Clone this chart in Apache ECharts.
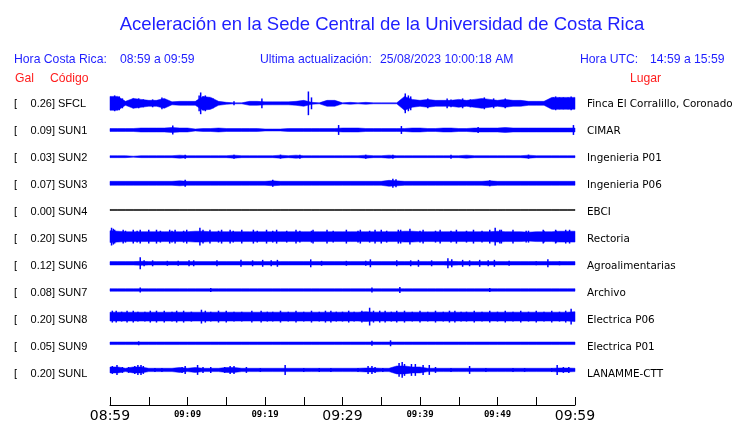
<!DOCTYPE html>
<html><head><meta charset="utf-8">
<script src="https://cdn.jsdelivr.net/npm/echarts@6/dist/echarts.min.js"></script>
<style>html,body{margin:0;padding:0;background:#fff}#c{width:740px;height:423px}</style>
</head><body><div id="c"></div><script>
// ---- data ----
const tickLabels = ['08:59','09:09','09:19','09:29','09:39','09:49','09:59'];
const galValues = ['0.26','0.09','0.03','0.07','0.00','0.20','0.12','0.08','0.20','0.05','0.20'];
const codes = ['SFCL','SUN1','SUN2','SUN3','SUN4','SUN5','SUN6','SUN7','SUN8','SUN9','SUNL'];
const places = ['Finca El Corralillo, Coronado','CIMAR','Ingenieria P01','Ingenieria P06','EBCI','Rectoria','Agroalimentarias','Archivo','Electrica P06','Electrica P01','LANAMME-CTT'];
// envelope half-amplitude per minute (0..60), in trace units
const envSFCL = [7,7,2,5,4,3,3,5,1.5,2,2,2,7,6,2,1,0.5,0.5,2,2,1.5,1.5,1.5,1.5,2,3,1,0.5,3,3,0.5,1,0.5,1,0.5,0.5,0.5,0.5,7,4,3,4,3,3,3,4,3,4,5,4,3,4,3,3,2,2,2,6,6,6,6];
const envSUN1 = [1.5,1.5,1.5,1.5,2,2,2,2,2.5,2,2,1,1.5,1.5,2,1.5,1.5,1.5,1.5,1.5,1,1,1,1.5,1.5,1.5,1.5,1.5,1.5,1.5,2,2,2,1.5,1.5,1.5,1.5,1.5,1.5,2,2,1.5,1.5,2,2,1.5,1.5,2,2,2,2,2.5,2,2,2,2,2,2,2,2,2];
const envSUN2 = [1,1,1,0.5,1,1,1,1,1,1.5,1,1,1,1,1,1,1.5,1,1,1,1,1,1.5,1,1.5,1,1,1,1,1,1,1,1,1.5,1,1,1.5,1,1,1,1,1,1,1,1,1,1.5,1,1,1,1,1,1,1,1.5,1,1,1,1,1,1];
const envSUN3 = [2,2,2,2,2,2,2,2,2,2.5,2,2,2,2,2,2,2,2,2,2,2,2.5,2,2,2,2,2,2,2,2,2,2,2,2,2,2,3,2.5,2,2,2,2,2,2,2,2,2,2,2,2.5,2,2,2,2,2,2,2,2,2,2,2];
const envSUN4 = [0.5,0.5,0.5,0.5,0.5,0.5,0.5,0.5,0.5,0.5,0.5,0.5,0.5,0.5,0.5,0.5,0.5,0.5,0.5,0.5,0.5,0.5,0.5,0.5,0.5,0.5,0.5,0.5,0.5,0.5,0.5,0.5,0.5,0.5,0.5,0.5,0.5,0.5,0.5,0.5,0.5,0.5,0.5,0.5,0.5,0.5,0.5,0.5,0.5,0.5,0.5,0.5,0.5,0.5,0.5,0.5,0.5,0.5,0.5,0.5,0.5];
const envSUN5 = [6,5.5,5,5,5,5,5,5,5,5,5,5.5,5.5,5,5,5,5,5,5,5,5,5,5,5,5,5,5,5,5,5,5,5,5,5,5,5,5,5,5.5,5.5,5,5,5,5,5,5,5,5,5,5,5.5,5,5,5,4.5,5,5,5,5.5,5.5,5.5];
const envSUN6 = [1.7,1.7,1.7,1.7,2,1.7,1.7,1.7,1.7,1.7,1.7,1.7,1.7,1.7,1.7,1.7,1.7,1.7,1.7,1.7,1.7,1.7,1.7,1.7,1.7,1.7,1.7,1.7,1.7,1.7,1.7,1.7,1.7,1.7,1.7,1.7,1.7,1.7,1.7,1.7,1.7,1.7,1.7,1.7,2,1.7,1.7,1.7,1.7,1.7,1.7,1.7,1.7,1.7,1.7,1.7,1.7,1.7,1.7,1.7,1.7];
const envSUN7 = [1.3,1.3,1.3,1.3,1.3,1.3,1.3,1.3,1.3,1.3,1.3,1.3,1.3,1.3,1.3,1.3,1.3,1.3,1.3,1.3,1.3,1.3,1.3,1.3,1.3,1.3,1.3,1.3,1.3,1.3,1.3,1.3,1.3,1.3,1.3,1.3,1.3,1.3,1.3,1.3,1.3,1.3,1.3,1.3,1.3,1.3,1.3,1.3,1.3,1.3,1.3,1.3,1.3,1.3,1.3,1.3,1.3,1.3,1.3,1.3,1.3];
const envSUN8 = [4.5,4.5,4.5,4.5,4.5,4.5,4.5,4.5,4.5,4.5,4.5,4.5,4.5,4.5,4.5,4.5,4.5,4.5,4.5,4.5,4.5,4.5,4.5,4.5,4.5,4.5,4.5,4.5,4.5,4.5,4.5,4.5,4.5,5,4.5,4.5,4.5,4.5,4.5,4.5,4.5,4.5,4.5,4.5,4.5,4.5,4.5,4.5,4.5,4.5,4.5,4.5,4.5,4.5,4.5,4.5,4.5,4.5,4.5,4.5,5];
const envSUN9 = [1.3,1.3,1.3,1.3,1.3,1.3,1.3,1.3,1.3,1.3,1.3,1.3,1.3,1.3,1.3,1.3,1.3,1.3,1.3,1.3,1.3,1.3,1.3,1.3,1.3,1.3,1.3,1.3,1.3,1.3,1.3,1.3,1.3,1.3,1.3,1.3,1.3,1.3,1.3,1.3,1.3,1.3,1.3,1.3,1.3,1.3,1.3,1.3,1.3,1.3,1.3,1.3,1.3,1.3,1.3,1.3,1.3,1.3,1.3,1.3,1.3];
const envSUNL = [3,3,1.7,3,3,1.7,1.7,1.7,1.7,2.5,1.7,2.5,1.7,1.7,1.7,2.5,2.5,1.7,1.7,1.7,1.7,1.7,1.7,1.7,1.7,1.7,1.7,1.7,1.7,1.7,1.7,1.7,1.7,2,2,1.7,1.7,4,4,3,3,1.7,1.7,1.7,1.7,1.7,1.7,1.7,1.7,1.7,1.7,1.7,1.7,1.7,1.7,1.7,1.7,1.7,2,2,1.7];
// individual spikes [minute, half-amplitude]
const spkSFCL = [[0.3,6],[0.6,8],[0.9,6],[1.2,7],[1.6,5],[3.0,5],[3.4,4],[3.7,5],[4.3,4],[5.5,4],[6.7,6],[7.1,4],[11.5,8],[11.7,11],[12.0,7],[12.3,8],[12.8,6],[13.3,5],[16,2],[19.6,5],[25.6,12],[26,6],[38.1,10],[38.5,8],[38.8,7],[41,5],[43.5,5],[44,4],[45.5,5],[46.5,4],[48.3,6],[49.5,5],[51,5],[57.2,6],[57.5,7],[58.0,6],[58.5,6],[59.1,6],[59.5,7]];
const spkSUN1 = [[8.1,4.5],[29.5,5],[37.6,4],[47.5,3],[59.8,5]];
const spkSUN2 = [[9.7,2],[16,2],[22,2],[24.5,2],[33,2],[36.5,2],[44,2],[54,2]];
const spkSUN3 = [[9.7,3.5],[21,3.5],[36.5,4.5],[36.9,4],[49,3]];
const spkSUN4 = [];
const spkSUN5 = [[0.2,9],[0.43,8],[0.6,7],[1.7,7],[2,6],[3.0,7],[3.5,6],[3.9,7],[5,7],[6,7],[6.5,6],[7.7,7],[8,6],[8.4,7],[9.5,6],[9.9,7],[11.6,9],[12,7],[12.9,7],[14,6],[14.4,7],[15.5,7],[15.9,6],[17,7],[18.5,7],[19,6],[20.2,7],[21,6],[21.5,7],[22.8,6],[24,7],[24.5,6],[26,6],[26.2,7],[28,7],[28.8,6],[30.5,7],[32,6],[32.3,7],[33.5,6],[34.2,7],[35,7],[35.7,6],[37.2,7],[37.5,7],[38.7,8],[40,6],[40.4,7],[42,6],[42.6,7],[44,6],[44.7,7],[46,6],[46.9,7],[48,6],[49,7],[49.7,9],[50.3,7],[50.5,7],[52,7],[53.7,6],[54,6],[55.9,7],[56,6],[57.5,7],[57.6,6],[58.8,7],[59.3,7]];
const spkSUN6 = [[3.9,6],[4.4,3],[5.5,3],[7.4,2.5],[8.8,2.5],[10.2,3],[10.8,3],[13.8,3],[16.9,3.5],[18.4,3],[19.7,3.5],[20.8,3],[21.6,3.5],[25.9,4],[27.3,2.5],[30.5,2.5],[33,2.5],[33.6,4],[37,3],[38.8,3],[39.8,3.5],[41.5,3],[43.6,5],[44.1,4],[45.5,3.5],[46.4,3],[47.7,3.5],[48.8,3],[49.6,3.5],[51.5,2.5],[55,2],[56.5,4],[58,2]];
const spkSUN7 = [[3.9,2.5],[13,2],[33.8,2.5],[37.4,3],[49,2]];
const spkSUN8 = [[0.3,6],[0.8,6],[1.5,5],[2.2,6],[3,6],[3.6,5],[4.5,5],[5.2,6],[6,6],[7,6],[8,5],[8.6,6],[9.5,6],[10.5,5],[11.8,7],[12.3,6],[13,5],[14,6],[15,6],[16,5],[17,5],[18.3,6],[19.5,6],[20.3,5],[21,5],[22,6],[23,5],[24,6],[25,5],[26,6],[27,5],[27.8,6],[28.5,6],[29.2,5],[30,5],[30.8,6],[31.5,5],[32.5,6],[33.5,9],[34,6],[34.8,6],[35.5,6],[36.3,5],[37,6],[38,6],[39,5],[40,6],[41,5],[42,6],[43,5],[43.8,6],[44.5,6],[45.3,5],[46,5],[47,6],[48,5],[49,6],[50,5],[51,6],[52,5],[53,6],[54,5],[55,6],[56,5],[57,6],[58,5],[58.8,6],[59.5,8]];
const spkSUN9 = [[3.7,2],[33.8,2.5],[36.2,3]];
const spkSUNL = [[0.3,4],[0.9,5],[1.6,3],[2.4,3],[3.2,4],[3.6,5],[4,5],[4.3,4],[5.8,2],[6.7,2],[9.3,3],[9.7,4],[11.3,5],[12,3],[13,3],[14.8,3],[15.5,4],[16,4],[17.6,3],[19.4,2],[22.6,5],[25,2],[27,2],[28.5,2],[32,2],[33.3,4],[33.8,4],[34.2,3],[35.2,2],[37.3,7],[37.7,8],[38,6],[38.9,6],[39.4,6],[40.4,5],[41.2,5],[42,3],[44,2],[46.4,4],[48.5,2],[52,2],[53.5,2],[57,2],[57.7,5],[58.5,3],[59.2,3]];

const envs = [envSFCL,envSUN1,envSUN2,envSUN3,envSUN4,envSUN5,envSUN6,envSUN7,envSUN8,envSUN9,envSUNL];
const spks = [spkSFCL,spkSUN1,spkSUN2,spkSUN3,spkSUN4,spkSUN5,spkSUN6,spkSUN7,spkSUN8,spkSUN9,spkSUNL];

// ---- layout ----
const BLUE = '#0000ff';
const HEAD = '#1e1eff';
const RED = '#ff1e1e';
const rowTop = 103, rowGap = 27, gridTop = 90;
const traceColor = i => (codes[i] === 'SUN4' ? '#000000' : BLUE);
const center = i => (rowTop - gridTop) + rowGap * i + 0.5;

const series = [];
envs.forEach((env, i) => {
  series.push({
    type: 'custom', silent: true, animation: false,
    data: [[0]],
    renderItem: (params, api) => {
      const c = center(i);
      const top = env.map((a, k) => api.coord([k, c - a]));
      const bot = env.map((a, k) => api.coord([k, c + a])).reverse();
      return { type: 'polygon', shape: { points: top.concat(bot) },
        style: { fill: traceColor(i), stroke: traceColor(i), lineWidth: 0.5 } };
    }
  });
  series.push({
    type: 'custom', silent: true, animation: false,
    data: spks[i],
    renderItem: (params, api) => {
      const c = center(i);
      const t = api.value(0), a = api.value(1);
      const p1 = api.coord([t, c - a]), p2 = api.coord([t, c + a]);
      return { type: 'line', shape: { x1: p1[0], y1: p1[1], x2: p2[0], y2: p2[1] },
        style: { stroke: traceColor(i), lineWidth: 1.5 } };
    }
  });
});

const graphics = [];
const txt = (x, y, text, opt) => graphics.push({ type: 'text', x, y, silent: true,
  style: Object.assign({ text, fontFamily: 'Liberation Sans', fontSize: 12.2, fill: '#000', textVerticalAlign: 'middle' }, opt) });
txt(14, 60, 'Hora Costa Rica:', { fill: HEAD });
txt(120, 60, tickLabels[0] + ' a ' + tickLabels[tickLabels.length - 1], { fill: HEAD });
txt(260, 60, 'Ultima actualización:', { fill: HEAD });
txt(380, 60, '25/08/2023 10:00:18 AM', { fill: HEAD });
txt(580, 60, 'Hora UTC:', { fill: HEAD });
txt(650, 60, '14:59 a 15:59', { fill: HEAD });
txt(15, 79, 'Gal', { fill: RED });
txt(50, 79, 'Código', { fill: RED });
txt(630, 79, 'Lugar', { fill: RED });
codes.forEach((c, i) => {
  const y = rowTop + rowGap * i + 1;
  txt(14, y, '[', { fontSize: 11 });
  txt(55, y, galValues[i] + ']', { fontSize: 11, textAlign: 'right' });
  txt(58, y, c, { fontSize: 11 });
  txt(587, y, places[i], { fontFamily: 'DejaVu Sans', fontSize: 10.4 });
});

const chart = echarts.init(document.getElementById('c'), null, { renderer: 'canvas' });
chart.setOption({
  animation: false,
  backgroundColor: '#fff',
  title: { text: 'Aceleración en la Sede Central de la Universidad de Costa Rica', left: 377, top: 10, textAlign: 'center',
    textStyle: { color: HEAD, fontSize: 18.5, fontWeight: 'normal', fontFamily: 'Liberation Sans' } },
  grid: { left: 110, right: 165, top: gridTop, bottom: 14 },
  xAxis: { type: 'value', min: 0, max: 60, interval: 5, position: 'bottom',
    axisLine: { onZero: false, lineStyle: { color: '#000', width: 1 } },
    axisTick: { inside: true, length: 8, lineStyle: { color: '#000' } },
    splitLine: { show: false },
    axisLabel: { margin: 1, showMinLabel: true, showMaxLabel: true,
      formatter: v => v % 10 ? '' : (v % 30 ? '{s|' + tickLabels[v / 10] + '}' : '{b|' + tickLabels[v / 10] + '}'),
      rich: { b: { fontSize: 14, fontFamily: 'DejaVu Sans', color: '#000', padding: [3, 0, 0, 0] },
              s: { fontSize: 9, fontFamily: 'DejaVu Sans Mono', fontWeight: 'bold', color: '#000', padding: [4, 0, 0, 0] } } } },
  yAxis: { type: 'value', min: 0, max: 319, inverse: true, show: false },
  graphic: graphics,
  series
});
</script></body></html>
